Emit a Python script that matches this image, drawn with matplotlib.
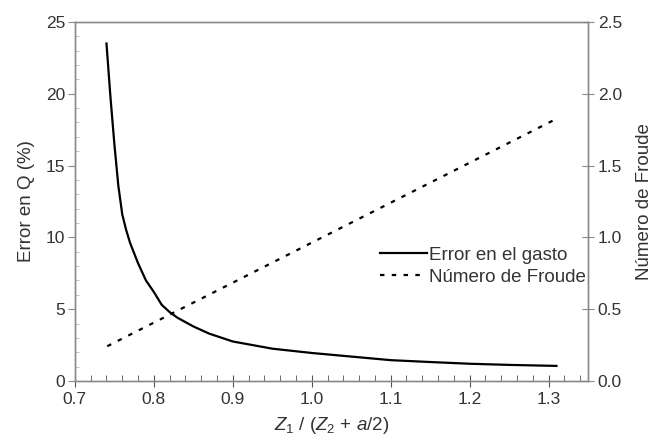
import matplotlib
matplotlib.use("Agg")
import matplotlib.pyplot as plt
from matplotlib.ticker import MultipleLocator

plt.rcParams['font.family'] = ['Liberation Sans', 'DejaVu Sans']
plt.rcParams['mathtext.fontset'] = 'custom'
plt.rcParams['mathtext.rm'] = 'Liberation Sans'
plt.rcParams['mathtext.it'] = 'Liberation Sans:italic'

# Error en el gasto (%) vs Z1/(Z2 + a/2)
x_err = [0.74, 0.745, 0.75, 0.755, 0.76, 0.765, 0.77, 0.78, 0.79, 0.80, 0.81, 0.82,
         0.83, 0.85, 0.87, 0.90, 0.95, 1.0, 1.05, 1.1, 1.15, 1.2, 1.25, 1.31]
y_err = [23.5, 19.8, 16.5, 13.6, 11.6, 10.5, 9.6, 8.2, 7.0, 6.2, 5.3, 4.8,
         4.4, 3.8, 3.3, 2.75, 2.25, 1.95, 1.7, 1.45, 1.32, 1.2, 1.12, 1.05]

# Numero de Froude
x_fr = [0.741, 1.313]
y_fr = [0.242, 1.834]

x_ticks = [0.7, 0.8, 0.9, 1.0, 1.1, 1.2, 1.3]
x_labels = ['0.7', '0.8', '0.9', '1.0', '1.1', '1.2', '1.3']
fr_ticks = [0.0, 0.5, 1.0, 1.5, 2.0, 2.5]
fr_labels = ['0.0', '0.5', '1.0', '1.5', '2.0', '2.5']

txt = '#333333'
gray = '#8a8a8a'

fig = plt.figure(figsize=(6.57, 4.48), dpi=100)
ax = fig.add_axes([0.114, 0.1496, 0.781, 0.8014])
ax2 = ax.twinx()

l1, = ax.plot(x_err, y_err, color='black', lw=1.6, label='Error en el gasto')
l2, = ax2.plot(x_fr, y_fr, color='black', lw=1.6, linestyle=(0, (2, 3.3)),
               label='Número de Froude')

ax.set_xticks(x_ticks)
ax.set_xticklabels(x_labels)
ax.xaxis.set_minor_locator(MultipleLocator(0.02))
ax.yaxis.set_major_locator(MultipleLocator(5))
ax.yaxis.set_minor_locator(MultipleLocator(1))
ax2.set_yticks(fr_ticks)
ax2.set_yticklabels(fr_labels)

ax.set_xlim(0.7, 1.35)
ax.set_ylim(0, 25)
ax2.set_ylim(0, 2.5)

for a in (ax, ax2):
    for s in a.spines.values():
        s.set_color(gray)
        s.set_linewidth(1.0)

ax.tick_params(axis='x', which='major', direction='inout', length=8, color='#555555',
               labelsize=12.5, labelcolor=txt, pad=4)
ax.tick_params(axis='x', which='minor', direction='in', length=4, color='#555555')
ax.tick_params(axis='y', which='major', direction='out', length=5, color=gray,
               labelsize=12.5, labelcolor=txt, pad=2)
ax.tick_params(axis='y', which='minor', direction='in', length=3, color='#bbbbbb')
ax2.tick_params(axis='y', which='major', direction='inout', length=8, color=gray,
                labelsize=12.5, labelcolor=txt, pad=3)

ax.set_ylabel('Error en Q (%)', fontsize=13.5, color=txt, labelpad=8)
ax2.set_ylabel('Número de Froude', fontsize=13.5, color=txt, labelpad=10)
ax.set_xlabel(r'$Z_1$ / ($Z_2$ + $a$/2)', fontsize=13.5, color=txt, labelpad=6)

leg = ax.legend([l1, l2], ['Error en el gasto', 'Número de Froude'],
                loc='upper right', bbox_to_anchor=(1.01, 0.395), frameon=False,
                fontsize=13.5, handlelength=2.5, handletextpad=0.1,
                labelspacing=0.25, borderaxespad=0)
for t in leg.get_texts():
    t.set_color(txt)

fig.savefig('out.png', dpi=100)
